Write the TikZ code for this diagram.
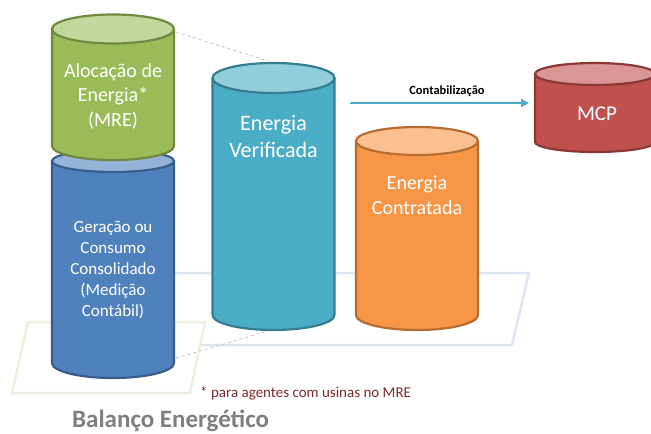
\documentclass[tikz,border=0pt]{standalone}
\usepackage{fontspec}
\setmainfont{Carlito}
\usetikzlibrary{arrows.meta}
\definecolor{gfill}{HTML}{9BBB59}\definecolor{gtop}{HTML}{C3D69B}\definecolor{gline}{HTML}{71893F}
\definecolor{bfill}{HTML}{4F81BD}\definecolor{btop}{HTML}{95B3D7}\definecolor{bline}{HTML}{385D8A}
\definecolor{tfill}{HTML}{4BACC6}\definecolor{ttop}{HTML}{92CDDC}\definecolor{tline}{HTML}{357D91}
\definecolor{ofill}{HTML}{F79646}\definecolor{otop}{HTML}{FAC090}\definecolor{oline}{HTML}{B66D31}
\definecolor{rfill}{HTML}{C0504D}\definecolor{rtop}{HTML}{D99694}\definecolor{rline}{HTML}{8C3836}
\definecolor{planeblue}{HTML}{DCE6F2}\definecolor{planegreen}{HTML}{EBF1DE}
\definecolor{notered}{HTML}{7B2A2A}\definecolor{titlegray}{HTML}{7F7F7F}
\newcommand\drawcyl[9]{%
  \filldraw[fill=#7,draw=#9,line width=2.2pt,line join=round]
    ({#1-#4},#2) -- ({#1-#4},#3) arc[start angle=180,end angle=0,x radius=#4,y radius=#6] -- ({#1+#4},#2) -- cycle;
  \filldraw[fill=#8,draw=#9,line width=2.2pt] (#1,#2) ellipse[x radius=#4,y radius=#5];
}
\tikzset{
  cyltext/.style={text=white,align=center,inner sep=0pt},
  plane/.style={line width=2.5pt,line join=miter},
  guide/.style={dashed,draw=gray!55,line width=0.7pt}
}
\begin{document}
\begin{tikzpicture}[x=1pt,y=1pt,yscale=-1]
\useasboundingbox (0,0) rectangle (651,434);
\clip (0,0) rectangle (651,434);
% planes
\draw[plane,draw=planeblue] (110,273) -- (529,273) -- (512,345) -- (93,345) -- cycle;
\draw[plane,draw=planegreen,fill=white] (28,322) -- (205,322) -- (190,393) -- (12,393) -- cycle;
% guide lines
\coordinate (g1) at (176,32); \coordinate (g2) at (268,61);
\coordinate (g3) at (176,358); \coordinate (g4) at (268,331);
\draw[guide] (g1) -- (g2);
\draw[guide] (g3) -- (g4);
% cylinders
\drawcyl{113}{161}{363}{61}{11}{15}{bfill}{btop}{bline}
\drawcyl{113}{29}{146}{61}{14.5}{14}{gfill}{gtop}{gline}
\drawcyl{273.5}{78}{315}{61}{15}{15}{tfill}{ttop}{tline}
\drawcyl{417}{141}{315}{61}{14}{15}{ofill}{otop}{oline}
\drawcyl{595}{74}{142}{60}{11}{10}{rfill}{rtop}{rline}
% texts
\node[cyltext,font=\fontsize{20}{24.5}\selectfont] (aloc) at (113,96) {Alocação de\\Energia*\\(MRE)};
\node[cyltext,font=\fontsize{17}{21}\selectfont] (ger) at (113,269.5) {Geração ou\\Consumo\\Consolidado\\(Medição\\Contábil)};
\node[cyltext,font=\fontsize{22}{27}\selectfont] (ver) at (273.5,136.5) {Energia\\Verificada};
\node[cyltext,font=\fontsize{20}{25}\selectfont] (con) at (417,195.5) {Energia\\Contratada};
\node[cyltext,font=\fontsize{21}{25}\selectfont] (mcp) at (597,114) {MCP};
% arrow
\coordinate (a1) at (350,103); \coordinate (a2) at (529,103);
\draw[-{Triangle[length=8pt,width=8pt]},draw=tfill,line width=2.2pt] (a1) -- (a2);
\node[font=\fontsize{12.5}{15}\selectfont\bfseries,inner sep=0pt] (cont) at (447,91) {Contabilização};
% notes
\node[font=\fontsize{15}{17}\selectfont,text=notered,inner sep=0pt,anchor=west] (note) at (200,393) {* para agentes com usinas no MRE};
\node[font=\fontsize{25}{28}\selectfont\bfseries,text=titlegray,inner sep=0pt,anchor=west] (title) at (72,420.5) {Balanço Energético};
\end{tikzpicture}
\end{document}
